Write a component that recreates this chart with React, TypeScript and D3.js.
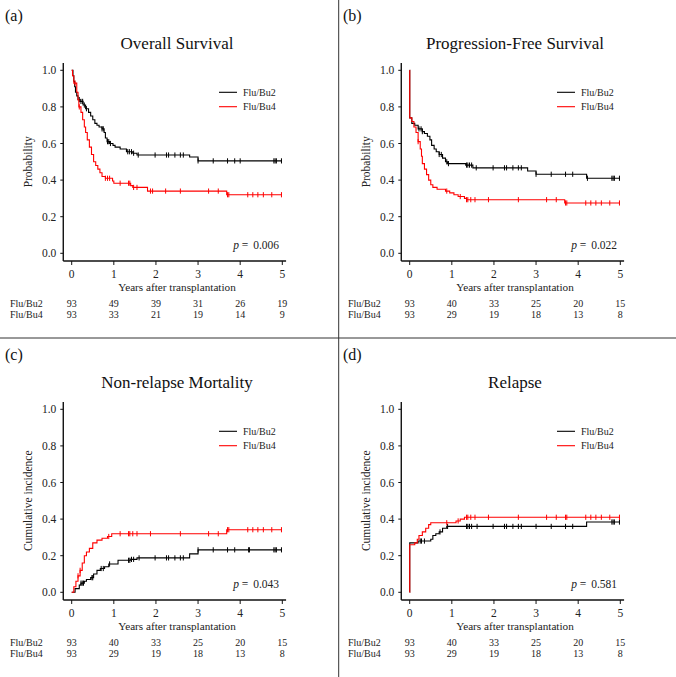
import React, { useEffect } from "react";
import * as d3 from "d3";

// ---------- data ----------
const xTicks = [0, 1, 2, 3, 4, 5];
const yTicks = [0, 0.2, 0.4, 0.6, 0.8, 1.0];
const groupNames = ["Flu/Bu2", "Flu/Bu4"];

// (a) Overall survival
const osBu2Times = [0, 0.03, 0.05, 0.07, 0.09, 0.12, 0.15, 0.2, 0.27, 0.33, 0.4, 0.45, 0.5, 0.55, 0.6, 0.65, 0.72, 0.77, 0.8, 0.84, 0.9, 0.98, 1.03, 1.15, 1.3, 1.45, 1.55, 2.8, 3.0];
const osBu2Vals = [1.0, 0.97, 0.94, 0.91, 0.88, 0.86, 0.84, 0.83, 0.81, 0.79, 0.77, 0.75, 0.73, 0.71, 0.7, 0.69, 0.68, 0.66, 0.63, 0.61, 0.6, 0.59, 0.58, 0.57, 0.555, 0.547, 0.537, 0.526, 0.505];
const osBu2Cens = [0.18, 0.22, 0.26, 0.3, 0.35, 0.72, 0.75, 0.85, 0.88, 0.92, 1.33, 1.37, 1.42, 1.47, 1.58, 1.98, 2.25, 2.3, 2.45, 2.58, 2.65, 3.0, 3.36, 3.7, 3.87, 4.0, 4.8, 4.83, 4.86, 4.98];
const osBu4Times = [0, 0.02, 0.05, 0.12, 0.15, 0.17, 0.22, 0.26, 0.3, 0.33, 0.37, 0.42, 0.47, 0.52, 0.57, 0.62, 0.67, 0.72, 0.8, 0.97, 1.0, 1.4, 1.45, 1.8, 3.68];
const osBu4Vals = [1.0, 0.97, 0.93, 0.88, 0.84, 0.8, 0.77, 0.73, 0.69, 0.66, 0.62, 0.58, 0.54, 0.5, 0.48, 0.46, 0.44, 0.42, 0.41, 0.395, 0.383, 0.37, 0.36, 0.34, 0.32];
const osBu4Cens = [0.08, 0.18, 0.8, 0.85, 0.9, 1.15, 1.35, 1.38, 1.47, 1.55, 1.87, 1.92, 2.23, 2.58, 3.25, 3.48, 3.7, 3.73, 4.18, 4.3, 4.42, 4.55, 4.75, 4.98];
const osRiskBu2 = [93, 49, 39, 31, 26, 19];
const osRiskBu4 = [93, 33, 21, 19, 14, 9];

// (b) Progression-free survival
const pfsBu2Times = [0, 0.001, 0.05, 0.12, 0.2, 0.3, 0.35, 0.42, 0.48, 0.52, 0.58, 0.63, 0.7, 0.78, 0.85, 0.9, 1.33, 1.5, 2.8, 3.0, 4.2];
const pfsBu2Vals = [1.0, 0.74, 0.71, 0.7, 0.68, 0.665, 0.655, 0.64, 0.62, 0.59, 0.57, 0.555, 0.54, 0.52, 0.5, 0.49, 0.482, 0.467, 0.45, 0.432, 0.41];
const pfsBu2Cens = [0.22, 0.27, 0.3, 0.7, 0.75, 0.88, 0.92, 1.35, 1.38, 1.42, 1.47, 1.58, 1.98, 2.25, 2.3, 2.45, 2.58, 2.65, 3.0, 3.36, 3.7, 3.87, 4.22, 4.8, 4.83, 4.86, 4.98];
const pfsBu4Times = [0, 0.001, 0.05, 0.1, 0.15, 0.2, 0.25, 0.28, 0.3, 0.35, 0.4, 0.45, 0.5, 0.55, 0.65, 0.85, 0.95, 1.05, 1.15, 1.3, 1.35, 3.68];
const pfsBu4Vals = [1.0, 0.74, 0.72, 0.69, 0.66, 0.61, 0.57, 0.53, 0.49, 0.46, 0.43, 0.4, 0.375, 0.36, 0.35, 0.34, 0.33, 0.32, 0.31, 0.3, 0.293, 0.275];
const pfsBu4Cens = [0.2, 0.88, 1.2, 1.35, 1.38, 1.45, 1.55, 1.87, 2.58, 3.25, 3.48, 3.7, 3.73, 4.18, 4.3, 4.42, 4.55, 4.75, 4.98];
const pfsRiskBu2 = [93, 40, 33, 25, 20, 15];
const pfsRiskBu4 = [93, 29, 19, 18, 13, 8];

// (c) Non-relapse mortality
const nrmBu2Times = [0, 0.08, 0.18, 0.22, 0.3, 0.35, 0.45, 0.52, 0.6, 0.68, 0.78, 0.88, 1.1, 1.4, 1.55, 2.8, 3.0];
const nrmBu2Vals = [0, 0.02, 0.04, 0.05, 0.06, 0.07, 0.08, 0.1, 0.12, 0.13, 0.14, 0.155, 0.175, 0.18, 0.188, 0.21, 0.232];
const nrmBu2Cens = [0.22, 0.25, 0.28, 0.48, 0.5, 0.7, 0.75, 0.9, 1.35, 1.38, 1.42, 1.47, 1.6, 1.98, 2.25, 2.3, 2.45, 2.58, 2.65, 3.0, 3.36, 3.7, 3.87, 4.2, 4.22, 4.8, 4.83, 4.86, 4.98];
const nrmBu4Times = [0, 0.05, 0.1, 0.15, 0.2, 0.25, 0.3, 0.35, 0.42, 0.5, 0.6, 0.72, 0.85, 0.95, 3.68];
const nrmBu4Vals = [0, 0.03, 0.06, 0.09, 0.12, 0.16, 0.2, 0.22, 0.24, 0.27, 0.285, 0.295, 0.305, 0.32, 0.342];
const nrmBu4Cens = [0.15, 0.2, 0.88, 1.15, 1.35, 1.38, 1.45, 1.55, 1.87, 2.58, 3.25, 3.48, 3.7, 3.73, 4.18, 4.3, 4.42, 4.55, 4.75, 4.98];
const nrmRiskBu2 = [93, 40, 33, 25, 20, 15];
const nrmRiskBu4 = [93, 29, 19, 18, 13, 8];

// (d) Relapse
const relBu2Times = [0, 0.001, 0.2, 0.5, 0.55, 0.62, 0.7, 0.78, 0.88, 4.2];
const relBu2Vals = [0, 0.27, 0.28, 0.29, 0.31, 0.32, 0.33, 0.35, 0.36, 0.384];
const relBu2Cens = [0.25, 0.28, 0.35, 0.72, 0.9, 1.35, 1.38, 1.42, 1.47, 1.6, 1.98, 2.25, 2.3, 2.45, 2.58, 2.65, 3.0, 3.36, 3.7, 3.87, 4.8, 4.83, 4.86, 4.98];
const relBu4Times = [0, 0.001, 0.12, 0.18, 0.22, 0.3, 0.38, 0.45, 0.5, 1.1, 1.2, 1.3];
const relBu4Vals = [0, 0.26, 0.27, 0.29, 0.31, 0.33, 0.35, 0.37, 0.38, 0.39, 0.4, 0.41];
const relBu4Cens = [0.88, 1.15, 1.35, 1.38, 1.45, 1.55, 1.87, 2.58, 3.25, 3.48, 3.7, 3.73, 4.18, 4.3, 4.42, 4.55, 4.75, 4.98];
const relRiskBu2 = [93, 40, 33, 25, 20, 15];
const relRiskBu4 = [93, 29, 19, 18, 13, 8];

const panelLetters = ["(a)", "(b)", "(c)", "(d)"];
const panelTitles = ["Overall Survival", "Progression-Free Survival", "Non-relapse Mortality", "Relapse"];
const panelYLabels = ["Probability", "Probability", "Cumulative incidence", "Cumulative incidence"];
const panelPValues = ["0.006", "0.022", "0.043", "0.581"];

type Series = { times: number[]; vals: number[]; cens: number[] };
type Panel = {
  letter: string; title: string; ylabel: string; p: string;
  bu2: Series; bu4: Series; risk2: number[]; risk4: number[];
  dx: number; dy: number;
};

const panels: Panel[] = [
  { letter: panelLetters[0], title: panelTitles[0], ylabel: panelYLabels[0], p: panelPValues[0],
    bu2: { times: osBu2Times, vals: osBu2Vals, cens: osBu2Cens }, bu4: { times: osBu4Times, vals: osBu4Vals, cens: osBu4Cens },
    risk2: osRiskBu2, risk4: osRiskBu4, dx: 0, dy: 0 },
  { letter: panelLetters[1], title: panelTitles[1], ylabel: panelYLabels[1], p: panelPValues[1],
    bu2: { times: pfsBu2Times, vals: pfsBu2Vals, cens: pfsBu2Cens }, bu4: { times: pfsBu4Times, vals: pfsBu4Vals, cens: pfsBu4Cens },
    risk2: pfsRiskBu2, risk4: pfsRiskBu4, dx: 338, dy: 0 },
  { letter: panelLetters[2], title: panelTitles[2], ylabel: panelYLabels[2], p: panelPValues[2],
    bu2: { times: nrmBu2Times, vals: nrmBu2Vals, cens: nrmBu2Cens }, bu4: { times: nrmBu4Times, vals: nrmBu4Vals, cens: nrmBu4Cens },
    risk2: nrmRiskBu2, risk4: nrmRiskBu4, dx: 0, dy: 339 },
  { letter: panelLetters[3], title: panelTitles[3], ylabel: panelYLabels[3], p: panelPValues[3],
    bu2: { times: relBu2Times, vals: relBu2Vals, cens: relBu2Cens }, bu4: { times: relBu4Times, vals: relBu4Vals, cens: relBu4Cens },
    risk2: relRiskBu2, risk4: relRiskBu4, dx: 338, dy: 339 },
];

const END_TIME = 4.99;
const FONT = "'Liberation Serif', 'Times New Roman', serif";
const COLORS = ["#000000", "#ff0000"];

const x = d3.scaleLinear().domain([0, 5]).range([71.7, 282.3]);
const y = d3.scaleLinear().domain([0, 1]).range([253.3, 70.3]);

function stepValue(s: Series, t: number) {
  const i = d3.bisectRight(s.times, t) - 1;
  return s.vals[Math.max(0, i)];
}

const line = d3
  .line<[number, number]>()
  .x((d) => x(d[0]))
  .y((d) => y(d[1]))
  .curve(d3.curveStepAfter);

function seriesPath(s: Series) {
  const pts: [number, number][] = s.times.map((t, i) => [t, s.vals[i]]);
  pts.push([END_TIME, s.vals[s.vals.length - 1]]);
  return line(pts) || "";
}

function SeriesMarks({ s, color }: { s: Series; color: string }) {
  return (
    <g>
      <path d={seriesPath(s)} fill="none" stroke={color} strokeWidth={1.1} />
      {s.cens.map((t, i) => {
        const v = stepValue(s, t);
        return (
          <line key={i} x1={x(t)} x2={x(t)} y1={y(v) - 2.6} y2={y(v) + 2.6} stroke={color} strokeWidth={1} />
        );
      })}
    </g>
  );
}

function PanelView({ p }: { p: Panel }) {
  const axisLeft = x(-0.2);
  const axisRight = x(5.09);
  const axisTop = y(1.04);
  const axisBottom = y(-0.042);
  return (
    <g transform={`translate(${p.dx},${p.dy})`} fontFamily={FONT}>
      <text x={5} y={21} fontSize={16} fill="#111">{p.letter}</text>
      <text x={177} y={49} fontSize={17} textAnchor="middle" fill="#111">{p.title}</text>

      {/* axes */}
      <line x1={axisLeft} x2={axisLeft} y1={axisTop} y2={axisBottom} stroke="#111" strokeWidth={1.4} />
      <line x1={axisLeft} x2={axisRight} y1={axisBottom} y2={axisBottom} stroke="#111" strokeWidth={1.4} />
      {yTicks.map((v) => (
        <g key={v}>
          <line x1={axisLeft - 3} x2={axisLeft} y1={y(v)} y2={y(v)} stroke="#111" strokeWidth={1} />
          <text x={axisLeft - 7} y={y(v) + 4} fontSize={11.5} textAnchor="end" fill="#222">{v.toFixed(1)}</text>
        </g>
      ))}
      {xTicks.map((v) => (
        <g key={v}>
          <line x1={x(v)} x2={x(v)} y1={axisBottom} y2={axisBottom + 4} stroke="#111" strokeWidth={1} />
          <text x={x(v)} y={277.5} fontSize={11.5} textAnchor="middle" fill="#222">{v}</text>
        </g>
      ))}
      <text x={177} y={291} fontSize={11.2} textAnchor="middle" fill="#222">Years after transplantation</text>
      <text transform={`translate(32,${(y(0) + y(1)) / 2}) rotate(-90)`} fontSize={11.5} textAnchor="middle" fill="#222">{p.ylabel}</text>

      {/* curves */}
      <SeriesMarks s={p.bu2} color={COLORS[0]} />
      <SeriesMarks s={p.bu4} color={COLORS[1]} />

      {/* legend */}
      {groupNames.map((g, i) => (
        <g key={g}>
          <line x1={219} x2={237} y1={92.3 + i * 14.4} y2={92.3 + i * 14.4} stroke={COLORS[i]} strokeWidth={1.1} />
          <text x={243} y={92.3 + i * 14.4 + 3.5} fontSize={10} fill="#222">{g}</text>
        </g>
      ))}

      {/* p value */}
      <text x={279} y={249} fontSize={11.5} textAnchor="end" fill="#222">
        <tspan fontStyle="italic">p</tspan>
        <tspan> = </tspan>
        <tspan dx={2}>{p.p}</tspan>
      </text>

      {/* numbers at risk */}
      {[p.risk2, p.risk4].map((row, r) => (
        <g key={r}>
          <text x={10} y={306.5 + r * 11.7} fontSize={10} fill="#222">{groupNames[r]}</text>
          {row.map((n, i) => (
            <text key={i} x={x(xTicks[i])} y={306.5 + r * 11.7} fontSize={10} textAnchor="middle" fill="#222">{n}</text>
          ))}
        </g>
      ))}
    </g>
  );
}

export default function App() {
  useEffect(() => {
    document.body.style.margin = "0";
  }, []);
  return (
    <svg width={676} height={677} style={{ position: "absolute", left: 0, top: 0, background: "#fff" }}>
      <rect width={676} height={677} fill="#fff" />
      {panels.map((p, i) => (
        <PanelView key={i} p={p} />
      ))}
      <line x1={338.7} x2={338.7} y1={0} y2={677} stroke="#333" strokeWidth={1} />
      <line x1={0} x2={676} y1={338} y2={338} stroke="#333" strokeWidth={1} />
    </svg>
  );
}
